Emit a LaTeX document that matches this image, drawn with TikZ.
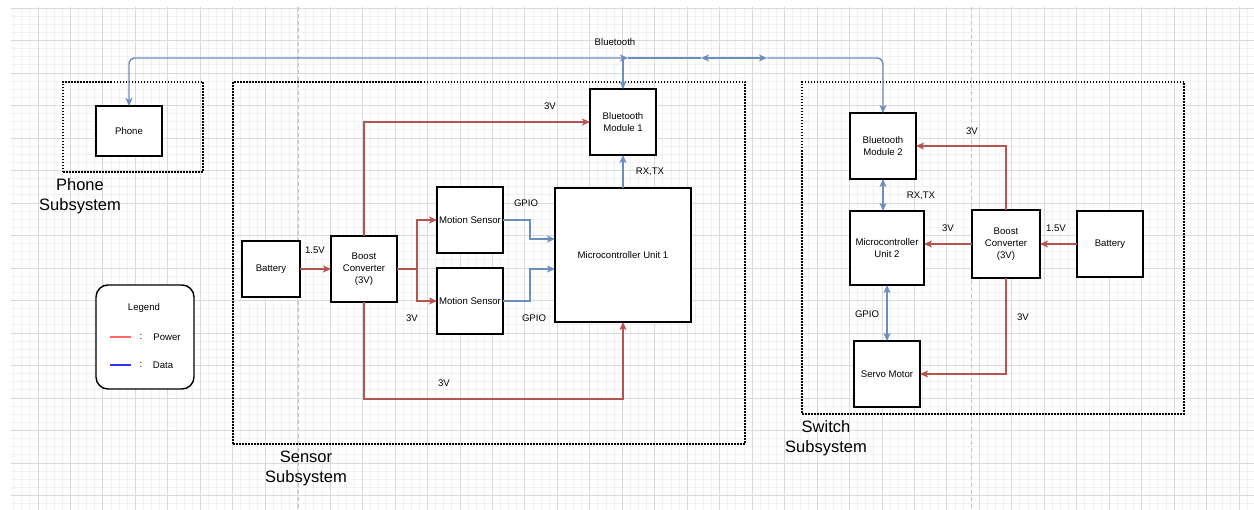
\documentclass[tikz,border=0pt]{standalone}
\usepackage{fontspec}
\setmainfont{Liberation Sans}
\usepackage{tikz}
\usetikzlibrary{arrows.meta,calc}
\definecolor{dgPower}{HTML}{B85450}
\definecolor{dgData}{HTML}{6C8EBF}
\definecolor{dgGridMin}{HTML}{F1F1F1}
\definecolor{dgGridMaj}{HTML}{DADADA}
\definecolor{dgBreak}{HTML}{C4C4C4}
\definecolor{dgKeyRed}{HTML}{FF6666}
\definecolor{dgKeyBlue}{HTML}{3333FF}

\begin{document}
\begin{tikzpicture}[x=1pt,y=-1pt,font=\fontsize{9.6}{11.8}\selectfont,
  >={Stealth[length=8pt,width=7pt,inset=2pt]},
  blk/.style={draw=black,fill=white,line width=1.4pt,align=center,inner sep=1pt,
              outer sep=0pt,minimum width=66pt,minimum height=66pt},
  grp/.style={draw=black,line width=1.3pt,dash pattern=on 1.5pt off 1.5pt,inner sep=0pt},
  pwr/.style={->,color=dgPower,line width=1.4pt},
  dat/.style={color=dgData,line width=1.4pt},
  big/.style={font=\fontsize{16.5}{20}\selectfont,align=center},
  gmin/.style={dgGridMin,line width=0.9pt},
  gmaj/.style={dgGridMaj,line width=0.9pt}]
\useasboundingbox (0,0) rectangle (1254,510);
% grid
\begin{scope}
\clip (11,7) rectangle (1254,510);
\foreach \k in {-4,...,150} {\draw[gmin] ({38+\k*8.115},7) -- ++(0,503);}
\foreach \k in {0,...,63} {\draw[gmin] (11,{8+\k*8.125}) -- ++(1243,0);}
\foreach \k in {-1,...,37} {\draw[gmaj] ({38+\k*32.46},7) -- ++(0,503);}
\foreach \k in {0,...,15} {\draw[gmaj] (11,{8+\k*32.5}) -- ++(1243,0);}
\draw[dgBreak,line width=0.9pt,dash pattern=on 4pt off 3pt] (298,7) -- (298,510);
\draw[dgBreak,line width=0.9pt,dash pattern=on 4pt off 3pt] (971,7) -- (971,510);
\end{scope}

% subsystems
\node[grp,minimum width=140pt,minimum height=90pt] (phonegrp) at (133,127) {};
\node[grp,minimum width=512pt,minimum height=362pt] (sensgrp) at (489,263) {};
\node[grp,minimum width=382pt,minimum height=332pt] (swgrp) at (993,248) {};
\node[big] (phonelbl) at (80,196) {Phone\\Subsystem};
\node[big] (senslbl) at (306,468) {Sensor\\Subsystem};
\node[big] (swlbl) at (826,438) {Switch\\Subsystem};

% blocks
\node[blk,minimum height=50pt] (phone) at (129,131) {Phone};
\node[blk,minimum width=58pt,minimum height=56pt] (bat1) at (271,269) {Battery};
\node[blk] (boost1) at (364,269) {Boost\\Converter\\(3V)};
\node[blk] (ms1) at (470,220) {Motion Sensor};
\node[blk] (ms2) at (470,301) {Motion Sensor};
\node[blk,minimum width=136pt,minimum height=134pt] (mcu1) at (623,255) {Microcontroller Unit 1};
\node[blk] (bt1) at (623,122) {Bluetooth\\Module 1};
\node[blk] (bt2) at (883,146) {Bluetooth\\Module 2};
\node[blk,minimum width=74pt,minimum height=74pt] (mcu2) at (887,248) {Microcontroller\\Unit 2};
\node[blk,minimum width=68pt,minimum height=68pt] (boost2) at (1006,244) {Boost\\Converter\\(3V)};
\node[blk] (bat2) at (1110,244) {Battery};
\node[blk] (servo) at (887,374) {Servo Motor};

% power, sensor side
\draw[pwr] (bat1) -- (boost1);
\draw[pwr] (boost1.north) |- (bt1.west);
\draw[pwr] (boost1.east) -- ++(20,0) |- (ms1.west);
\draw[pwr] (boost1.east) -- ++(20,0) |- (ms2.west);
\draw[pwr] (boost1.south) -- ++(0,97) -| (mcu1.south);
% data, sensor side
\draw[dat,->] (ms1.east) -- ++(27,0) |- ($(mcu1.west)+(0,-16)$);
\draw[dat,->] (ms2.east) -- ++(27,0) |- ($(mcu1.west)+(0,14)$);
\draw[dat,->] (mcu1.north) -- (bt1.south);

% power, switch side
\draw[pwr] (bat2) -- (boost2);
\draw[pwr] (boost2.west) -- (boost2.west -| mcu2.east);
\draw[pwr] (boost2.north) |- (bt2.east);
\draw[pwr] (boost2.south) |- (servo.east);
% data, switch side
\draw[dat,<->] (bt2.south) -- (bt2.south |- mcu2.north);
\draw[dat,<->] (mcu2.south) -- (servo.north);

% bluetooth link
\coordinate (btL) at (628,58);
\coordinate (btA) at (701,58);
\coordinate (btB) at (767,58);
\draw[dat,<->,rounded corners=6pt] (btL) -| (phone.north);
\draw[dat,->] (bt1.north |- btL) -- (bt1.north);
\draw[dat] (btL) -- (btA);
\draw[dat,<->] (btA) -- (btB);
\draw[dat,->,rounded corners=6pt] (btB) -| (bt2.north);
\node (btlbl) at (615,42) {Bluetooth};

% labels
\node (v15a) at (315,250) {1.5V};
\node (v3a) at (550,106) {3V};
\node (v3b) at (412,318) {3V};
\node (v3c) at (444,383) {3V};
\node (gpioa) at (526,203) {GPIO};
\node (gpiob) at (534,318) {GPIO};
\node (rxa) at (650,172) {RX,TX};
\node (v15b) at (1056,228) {1.5V};
\node (v3d) at (972,131) {3V};
\node (v3e) at (948,228) {3V};
\node (v3f) at (1023,317) {3V};
\node (rxb) at (921,196) {RX,TX};
\node (gpioc) at (867,314) {GPIO};

% legend
\node[draw=black,fill=white,line width=1.4pt,rounded corners=12pt,
      minimum width=98pt,minimum height=104pt] (legend) at (145,337) {};
\node (legtitle) at (144,308) {Legend};
\coordinate (kr1) at (110,337);
\coordinate (kr2) at (131,337);
\coordinate (kb1) at (110,365);
\coordinate (kb2) at (131,365);
\draw[dgKeyRed,line width=1.4pt] (kr1) -- (kr2);
\draw[dgKeyBlue,line width=1.4pt] (kb1) -- (kb2);
\node (colr) at (141,337) {:};
\node (colb) at (141,365) {:};
\node (keypwr) at (167,337) {Power};
\node (keydat) at (163,365) {Data};
\end{tikzpicture}
\end{document}
